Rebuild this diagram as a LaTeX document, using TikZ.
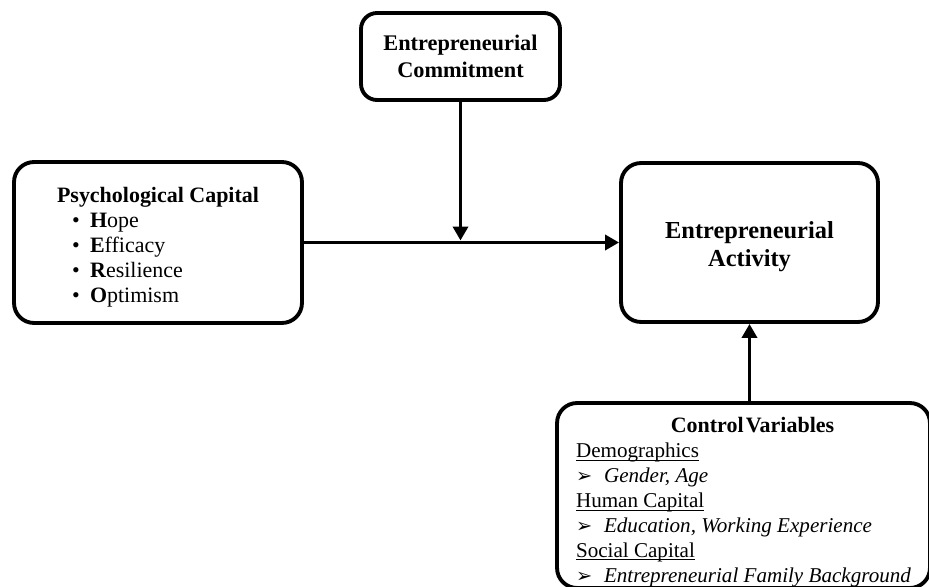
\documentclass[tikz,border=0pt]{standalone}
\usepackage{fontspec}
\setmainfont{Liberation Serif}
\newfontfamily\dingfont{DejaVu Sans}
\usepackage{tikz}
\usetikzlibrary{arrows.meta}

\newcommand{\pcitem}[2]{\hspace*{0.3cm}\makebox[0.36cm][l]{\textbullet}\textbf{#1}#2}
\newcommand{\cvitem}[1]{\makebox[0.56cm][l]{{\dingfont\fontsize{11}{11}\selectfont ➢}}\textit{#1}}
\newcommand{\cvhead}[1]{\underline{\smash{#1}}}
\newcommand{\lowered}[2]{\raisebox{-#1}[\height][\depth]{#2}}

\begin{document}
\begin{tikzpicture}[x=0.02cm, y=-0.02cm, line width=2.2pt,
    capbox/.style={draw, rounded corners=0.4cm, align=center, inner sep=0pt},
    link/.style={line width=2.2pt, -{Triangle[length=0.28cm,width=0.3cm]}}]
  \useasboundingbox (0,0) rectangle (929,587);
  \clip (0,0) rectangle (929,587);
  \node[capbox,minimum width=3.98cm,minimum height=1.74cm,rounded corners=0.32cm,
    font=\fontsize{12.7}{15.4}\selectfont\bfseries] (commit) at (460.5,56.5) {Entrepreneurial\\Commitment};
  \node[capbox,minimum width=5.76cm,minimum height=3.22cm,
    font=\fontsize{12.5}{14.2}\selectfont] (psycap) at (158,242.5) {\lowered{0.1cm}{\begin{tabular}{@{}l@{}}
      \textbf{Psychological Capital}\\
      \pcitem{H}{ope}\\
      \pcitem{E}{fficacy}\\
      \pcitem{R}{esilience}\\
      \pcitem{O}{ptimism}
    \end{tabular}}};
  \node[capbox,minimum width=5.14cm,minimum height=3.18cm,
    font=\fontsize{13.9}{15.9}\selectfont\bfseries] (activity) at (749.5,242.5) {\lowered{0.08cm}{\begin{tabular}{@{}c@{}}Entrepreneurial\\Activity\end{tabular}}};
  \node[capbox,minimum width=7.46cm,minimum height=3.7cm,
    font=\fontsize{12}{14.2}\selectfont] (control) at (743.5,495.5) {\lowered{0.14cm}{\begin{tabular}{@{}l@{}}
      \multicolumn{1}{c}{\hspace*{0.36cm}\fontsize{12.5}{14.2}\selectfont\textbf{Control\kern0.1em Variables}}\\
      \cvhead{Demographics}\\
      \cvitem{Gender, Age}\\
      \cvhead{Human Capital}\\
      \cvitem{Education, Working Experience}\\
      \cvhead{Social Capital}\\
      \cvitem{Entrepreneurial Family Background}
    \end{tabular}}};
  \coordinate (join) at (460.5,240.5);
  \draw[link] (psycap) -- (activity);
  \draw[link] (commit) -- (join);
  \draw[link] (control.north -| activity.south) -- (activity.south);
\end{tikzpicture}
\end{document}
